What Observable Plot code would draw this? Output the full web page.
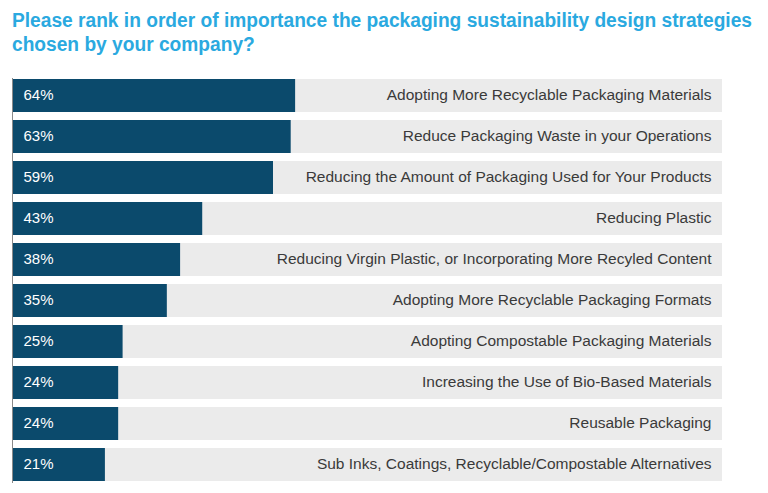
<!DOCTYPE html>
<html>
<head>
<meta charset="utf-8">
<script src="https://cdn.jsdelivr.net/npm/d3@7"></script>
<script src="https://cdn.jsdelivr.net/npm/@observablehq/plot@0.6"></script>
<style>
  html, body { margin: 0; padding: 0; background: #fff; }
  #wrap { width: 768px; height: 493px; position: relative; overflow: hidden; }
  .tline { position: absolute; left: 12px; white-space: nowrap; transform-origin: 0 0;
    font-family: "Liberation Sans", Arial, sans-serif;
    font-weight: bold; font-size: 20px; line-height: 20px; color: #2aa9e0; }
  #t1 { top: 10px; }
  #t2 { top: 34px; }
  #chart { position: absolute; left: 0; top: 70px; }
</style>
</head>
<body>
<div id="wrap">
  <div class="tline" id="t1">Please rank in order of importance the packaging sustainability design strategies</div>
  <div class="tline" id="t2">chosen by your company?</div>
  <div id="chart"></div>
</div>
<script>
const categories = [
  "Adopting More Recyclable Packaging Materials",
  "Reduce Packaging Waste in your Operations",
  "Reducing the Amount of Packaging Used for Your Products",
  "Reducing Plastic",
  "Reducing Virgin Plastic, or Incorporating More Recyled Content",
  "Adopting More Recyclable Packaging Formats",
  "Adopting Compostable Packaging Materials",
  "Increasing the Use of Bio-Based Materials",
  "Reusable Packaging",
  "Sub Inks, Coatings, Recyclable/Compostable Alternatives"
];
const values = [64, 63, 59, 43, 38, 35, 25, 24, 24, 21];
const trackMax = 160.5;

const data = categories.map((c, i) => ({category: c, value: values[i], label: values[i] + "%"}));

const chart = Plot.plot({
  width: 768,
  height: 423,
  marginTop: 8,
  marginBottom: 10,
  marginLeft: 12,
  marginRight: 46,
  x: {domain: [0, trackMax], axis: null},
  y: {domain: categories, axis: null, paddingInner: 0.19, paddingOuter: 0},
  style: {fontFamily: "'Liberation Sans', Arial, sans-serif", fontSize: "15px", background: "transparent"},
  marks: [
    Plot.barX(data, {y: "category", x1: 0, x2: trackMax, fill: "#ebebeb"}),
    Plot.barX(data, {y: "category", x: "value", fill: "#0b4a6c"}),
    Plot.ruleX([0], {stroke: "#8a8a8a", strokeWidth: 1}),
    Plot.text(data, {y: "category", x: 0, text: "label", dx: 11, dy: -1, textAnchor: "start", fill: "#ffffff", fontSize: 15}),
    Plot.text(data, {y: "category", x: trackMax, text: "category", dx: -11, dy: -1, textAnchor: "end", fill: "#3a3a3a", fontSize: 15.5})
  ]
});
document.getElementById("chart").appendChild(chart);

// condense the title to the reference's width (the original uses a condensed face)
const t1 = document.getElementById("t1"), t2 = document.getElementById("t2");
const s = 740 / t1.getBoundingClientRect().width;
t1.style.transform = `scaleX(${s})`;
t2.style.transform = `scaleX(${s})`;
</script>
</body>
</html>
